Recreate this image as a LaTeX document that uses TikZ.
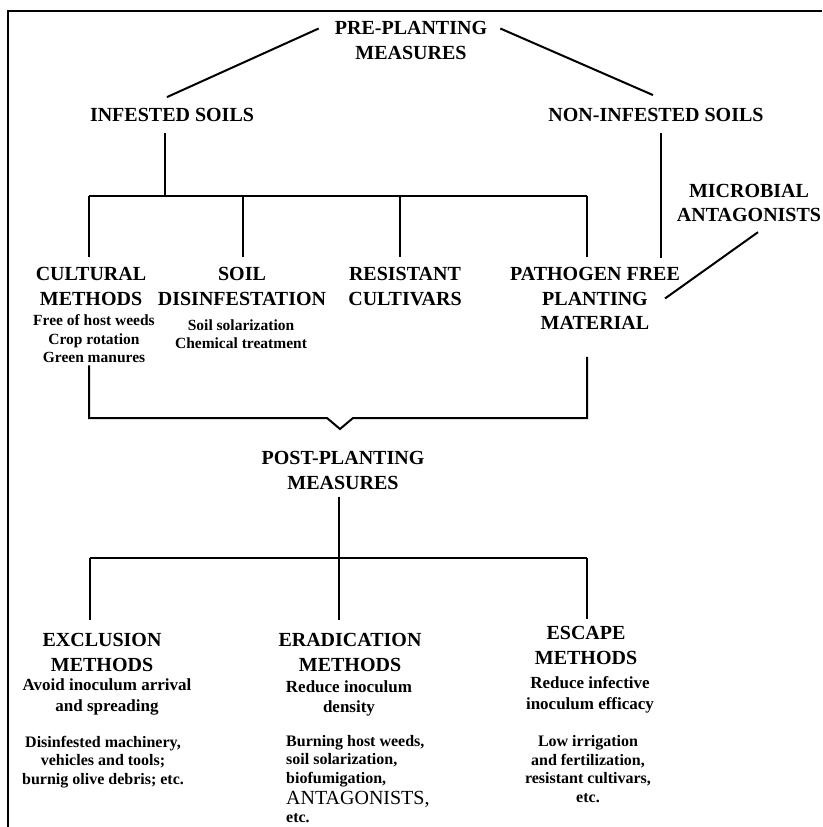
\documentclass[tikz,border=0pt]{standalone}
\usepackage{fontspec}
\setmainfont{Liberation Serif}
\usetikzlibrary{calc}

\tikzset{
  head/.style={font=\fontsize{20}{24.5}\selectfont\bfseries, align=center, inner sep=0pt},
  small/.style={font=\fontsize{15.5}{18.5}\selectfont\bfseries, align=center, inner sep=0pt},
  desc/.style={font=\fontsize{17}{20.5}\selectfont\bfseries, align=center, inner sep=0pt},
  expl/.style={font=\fontsize{16}{18.5}\selectfont\bfseries, align=center, inner sep=0pt},
  link/.style={line width=2pt},
}

\begin{document}
\begin{tikzpicture}[x=1pt, y=-1pt]
    \useasboundingbox (0,0) rectangle (822,827);
    \draw[link] (8,827) -- (8,11) -- (822,11);

    % pre-planting part
    \node[head] (pre) at (411,40.5) {PRE-PLANTING\\MEASURES};
    \node[head] (inf) at (172,115) {INFESTED SOILS};
    \node[head] (noninf) at (656,115) {NON-INFESTED SOILS};
    \node[head] (mic) at (749,203) {MICROBIAL\\ANTAGONISTS};

    \node[head] (cult) at (91,286.5) {CULTURAL\\METHODS};
    \node[small] (cultl) at (94,339) {Free of host weeds\\Crop rotation\\Green manures};
    \node[head] (soil) at (242,286.5) {SOIL\\DISINFESTATION};
    \node[small] (soill) at (241,334) {Soil solarization\\Chemical treatment};
    \node[head] (res) at (405,286.5) {RESISTANT\\CULTIVARS};
    \node[head] (pat) at (595,298.5) {PATHOGEN FREE\\PLANTING\\MATERIAL};

    \draw[link] ($(pre.west)+(-16,-12)$) -- ($(inf.north)+(-5,-11)$);
    \draw[link] ($(pre.east)+(13,-12)$) -- ($(noninf.north)+(-3,-13)$);

    \coordinate (ti) at (165,196);
    \coordinate (tl) at (89,196);
    \coordinate (tr) at (587,196);
    \draw[link, shorten <=11pt] (ti |- inf.south) -- (ti);
    \draw[link] (tl) -- (tr);
    \foreach \n/\x in {cult/89, soil/243, res/400, pat/587}
        \draw[link] (\x,196) -- ($(\x,196 |- \n.north)+(0,-10)$);
    \draw[link] ($(661,0 |- noninf.south)+(0,11)$) -- ($(661,0 |- pat.north)+(0,-9)$);
    \draw[link] ($(mic.south)+(9,10)$) -- ($(pat.center)+(70,0)$);

    % joining bracket
    \coordinate (bl) at (89,418);
    \coordinate (br) at (587,418);
    \coordinate (tri) at (340,418);
    \draw[link] ($(bl |- cultl.south)+(0,2)$) -- (bl) -- ($(tri)+(-13,0)$)
        -- ($(tri)+(0,11)$) -- ($(tri)+(13,0)$) -- (br) -- ($(br |- pat.south)+(0,27)$);

    % post-planting part
    \node[head] (post) at (343,470.5) {POST-PLANTING\\MEASURES};
    \coordinate (pb) at (339,558);
    \draw[link, shorten <=7pt] (pb |- post.south) -- (pb);
    \draw[link] (90,558) -- (587,558);

    \node[head] (exc) at (102,652.5) {EXCLUSION\\METHODS};
    \node[desc] (excd) at (107,697) {Avoid inoculum arrival\\and spreading};
    \node[expl] (excx) at (103,762) {Disinfested machinery,\\vehicles and tools;\\burnig olive debris; etc.};

    \node[head] (era) at (350,652.5) {ERADICATION\\METHODS};
    \node[desc] (erad) at (349,698.5) {Reduce inoculum\\density};
    \node[expl, align=left, anchor=north west] (erax) at (286,735)
        {Burning host weeds,\\soil solarization,\\biofumigation,\\[3pt]{\fontsize{20}{20}\selectfont\mdseries ANTAGONISTS,}\\[-1pt]etc.};

    \node[head] (esc) at (586,645.5) {ESCAPE\\METHODS};
    \node[desc] (escd) at (590,695) {Reduce infective\\inoculum efficacy};
    \node[expl] (escx) at (588,769) {Low irrigation\\and fertilization,\\resistant cultivars,\\etc.};

    \foreach \n/\x/\g in {exc/90/13, era/339/13, esc/587/7}
        \draw[link] (\x,558) -- ($(\x,558 |- \n.north)+(0,-\g)$);
\end{tikzpicture}
\end{document}
